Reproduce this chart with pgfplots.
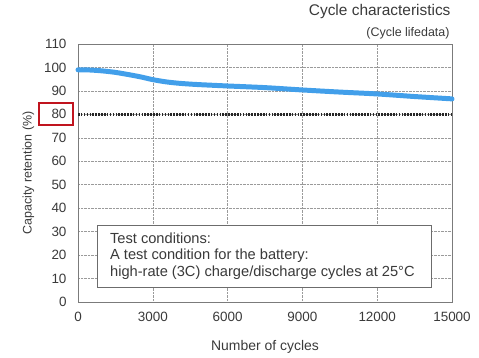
\documentclass[border=0pt]{standalone}
\usepackage{pgfplots}
\pgfplotsset{compat=1.18}
\usepackage{fontspec}
\setmainfont{Liberation Sans}
\definecolor{txt}{HTML}{3A3A3A}
\definecolor{curve}{HTML}{429FEA}
\definecolor{gridc}{HTML}{9A9A9A}
\definecolor{boxred}{HTML}{C0141E}
\begin{document}
\begin{tikzpicture}
\path (0,0) rectangle (479bp,355bp);
\begin{axis}[
  at={(78bp,53bp)}, anchor=south west,
  scale only axis, width=374bp, height=258bp,
  xmin=0, xmax=15000, ymin=0, ymax=110,
  xtick={0,3000,6000,9000,12000,15000},
  ytick={0,10,...,110},
  scaled x ticks=false,
  /pgf/number format/1000 sep={},
  /pgf/number format/assume math mode=true,
  tick style={draw=none},
  axis line style={draw=gridc!80!black, line width=0.8pt},
  grid=major,
  major grid style={gridc, densely dotted, line width=0.6pt},
  ticklabel style={font=\fontsize{13.5}{15}\selectfont, text=txt},
  xticklabel style={yshift=-7bp},
  yticklabel style={xshift=-8bp},
  xlabel={Number of cycles},
  ylabel={Capacity retention (\%)},
  label style={text=txt},
  xlabel style={font=\fontsize{14}{16}\selectfont, yshift=-12bp},
  ylabel style={font=\fontsize{12.5}{15}\selectfont, yshift=3bp},
  clip=false,
]
\addplot[black!85, line width=2.6pt, dash pattern=on 1.6pt off 1.3pt] coordinates {(0,80) (15000,80)};
\addplot[curve, line width=5pt, smooth, line cap=round] coordinates {
(0,99.0) (500,98.9) (1000,98.5) (1500,97.9) (2000,97.0) (2500,96.0) (3000,94.8)
(3500,93.9) (4000,93.3) (4500,92.9) (5000,92.6) (6000,92.1) (7500,91.4)
(9000,90.4) (10500,89.5) (12000,88.7) (13500,87.6) (15000,86.6)};
\draw[gridc!70!black, fill=white, line width=0.8pt] (axis cs:760,6.4) rectangle (axis cs:14160,32.8);
\node[anchor=west, align=left, text=txt, font=\fontsize{14.7}{16.5}\selectfont, inner sep=0pt] at (axis cs:1280,19.6)
{Test conditions:\\A test condition for the battery:\\high-rate (3C) charge/discharge cycles at 25°C};
\end{axis}
\draw[boxred, line width=1.2pt] (39bp,230bp) rectangle (73bp,252bp);
\node[anchor=east, text=txt, font=\fontsize{15.5}{18}\selectfont] at (454bp,343bp) {Cycle characteristics};
\node[anchor=east, text=txt, font=\fontsize{12.5}{14}\selectfont] at (453bp,322bp) {(Cycle lifedata)};
\end{tikzpicture}
\end{document}
